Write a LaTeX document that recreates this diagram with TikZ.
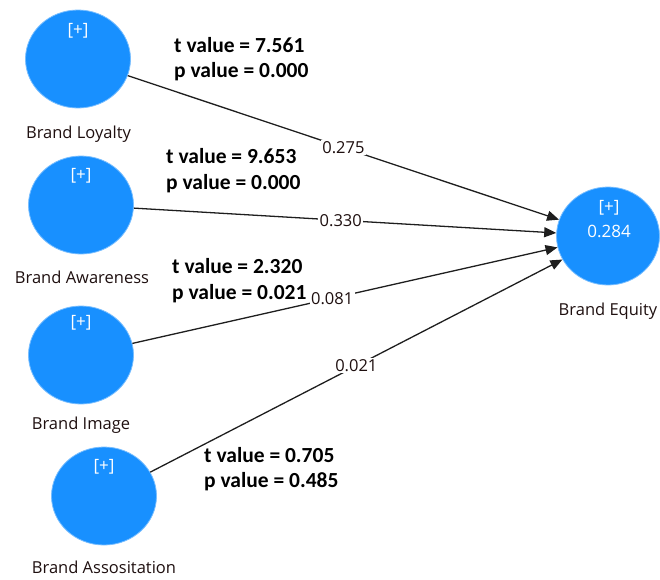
\documentclass[tikz,border=0pt]{standalone}
\usepackage{fontspec}
\setmainfont{Open Sans}
\newfontfamily\boldfam{Carlito}
\usetikzlibrary{shapes.geometric,arrows.meta}
\definecolor{lvblue}{RGB}{24,144,255}
\definecolor{lvedge}{RGB}{120,190,255}
\definecolor{txtc}{RGB}{30,15,15}
\definecolor{linec}{RGB}{30,30,30}
\tikzset{
  latent/.style={ellipse, fill=lvblue, draw=lvedge, line width=0.8pt, minimum width=105pt, minimum height=98pt, inner sep=0pt},
  lvname/.style={font=\fontsize{16.5}{18}\selectfont, text=txtc, anchor=base, inner sep=0pt},
  plus/.style={font=\fontsize{17}{18}\selectfont, text=white, anchor=base, inner sep=0pt},
  stat/.style={font=\boldfam\bfseries\fontsize{21.5}{23}\selectfont, text=black, anchor=base west, inner sep=0pt},
  coef/.style={font=\fontsize{16.5}{18}\selectfont, text=txtc, fill=white, inner sep=1.5pt},
  path/.style={draw=linec, line width=1.3pt, -{Triangle[length=12pt,width=10pt]}}
}
\begin{document}
\begin{tikzpicture}[x=1pt,y=-1pt]
\useasboundingbox (0,0) rectangle (660,579);
% latent variables
\node[latent] (bl) at (78,59) {};
\node[latent] (ba) at (81,205) {};
\node[latent] (bi) at (81,355) {};
\node[latent] (bs) at (104,496) {};
\node[latent, minimum width=103pt] (be) at (608,236) {};
% [+] markers
\node[plus] (blp) at (78,35) {[+]};
\node[plus] (bap) at (81,180) {[+]};
\node[plus] (bip) at (81,327) {[+]};
\node[plus] (bsp) at (104,471) {[+]};
\node[plus] (bep) at (609,212) {[+]};
\node[plus] (ber) at (609,237) {0.284};
% names
\node[lvname] (bln) at (78.5,138) {Brand Loyalty};
\node[lvname] (ban) at (82,283) {Brand Awareness};
\node[lvname] (bin) at (81,429) {Brand Image};
\node[lvname] (bsn) at (104,573) {Brand Assositation};
\node[lvname] (ben) at (608,315) {Brand Equity};
% paths
\draw[path] (bl) -- node[coef, pos=0.5] (c1) {0.275} (be);
\draw[path] (ba) -- node[coef, pos=0.49] (c2) {0.330} (be);
\draw[path] (bi) -- node[coef, pos=0.47] (c3) {0.081} (be);
\draw[path] (bs) -- node[coef, pos=0.5] (c4) {0.021} (be);
% statistics
\node[stat] (t1) at (174,52) {t value = 7.561};
\node[stat] (p1) at (174,77) {p value = 0.000};
\node[stat] (t2) at (166,163) {t value = 9.653};
\node[stat] (p2) at (166,189) {p value = 0.000};
\node[stat] (t3) at (172,273) {t value = 2.320};
\node[stat] (p3) at (172,299) {p value = 0.021};
\node[stat] (t4) at (204,462) {t value = 0.705};
\node[stat] (p4) at (204,487) {p value = 0.485};
\end{tikzpicture}
\end{document}
